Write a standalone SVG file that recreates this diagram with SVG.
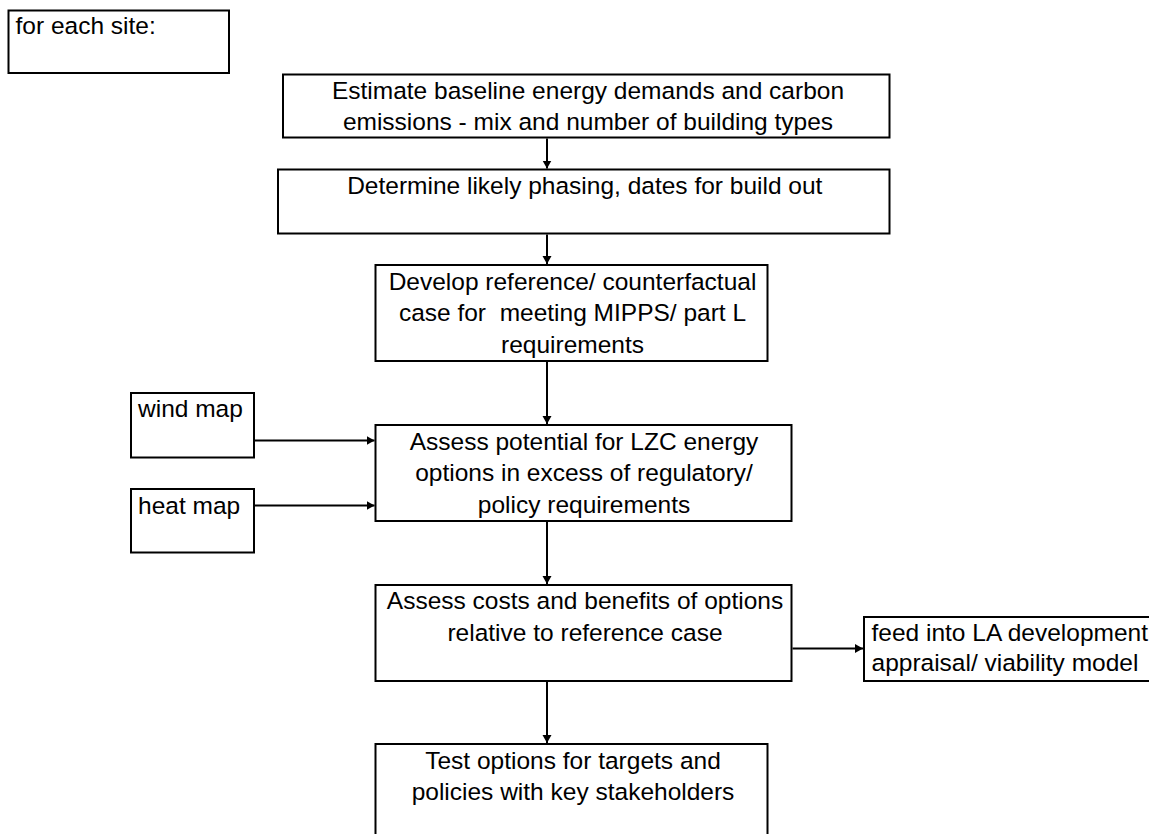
<svg xmlns="http://www.w3.org/2000/svg" width="1149" height="834" viewBox="0 0 1149 834">
  <style>
    .box { fill: #ffffff; stroke: #000000; stroke-width: 2; }
    .t { font-family: "Liberation Sans", Arial, sans-serif; font-size: 24.5px; fill: #000000; }
    .c { text-anchor: middle; }
    .conn { stroke: #000000; stroke-width: 2; fill: none; marker-end: url(#arrow); }
  </style>
  <defs>
    <marker id="arrow" markerUnits="userSpaceOnUse" markerWidth="10" markerHeight="10" refX="8" refY="4.5" orient="auto">
      <path d="M0,0 L8,4.5 L0,9 Z" fill="#000000"/>
    </marker>
  </defs>
  <rect x="0" y="0" width="1149" height="834" fill="#ffffff"/>

  <g id="for-each-site">
    <rect class="box" x="8.5" y="10.5" width="220.5" height="62.5"/>
    <text class="t" x="15.5" y="34">for each site:</text>
  </g>

  <g id="estimate-baseline">
    <rect class="box" x="283" y="74.5" width="606.5" height="63"/>
    <text class="t c" x="588" y="98.5">Estimate baseline energy demands and carbon</text>
    <text class="t c" x="588" y="130">emissions - mix and number of building types</text>
  </g>

  <g id="determine-phasing">
    <rect class="box" x="278" y="169.5" width="611.5" height="64"/>
    <text class="t c" x="584.8" y="193.5">Determine likely phasing, dates for build out</text>
  </g>

  <g id="develop-reference">
    <rect class="box" x="375.5" y="265" width="392" height="96"/>
    <text class="t c" x="572.5" y="289.5">Develop reference/ counterfactual</text>
    <text class="t c" x="572.5" y="321" xml:space="preserve">case for  meeting MIPPS/ part L</text>
    <text class="t c" x="572.5" y="352.5">requirements</text>
  </g>

  <g id="wind-map">
    <rect class="box" x="131" y="393" width="123" height="64.5"/>
    <text class="t" x="138" y="417.3">wind map</text>
  </g>

  <g id="heat-map">
    <rect class="box" x="131" y="489" width="123" height="63.5"/>
    <text class="t" x="138" y="513.5">heat map</text>
  </g>

  <g id="assess-potential">
    <rect class="box" x="375.5" y="425" width="416" height="96"/>
    <text class="t c" x="584" y="449.5">Assess potential for LZC energy</text>
    <text class="t c" x="584" y="481">options in excess of regulatory/</text>
    <text class="t c" x="584" y="512.5">policy requirements</text>
  </g>

  <g id="assess-costs">
    <rect class="box" x="375.5" y="585" width="416" height="96"/>
    <text class="t c" x="585" y="609">Assess costs and benefits of options</text>
    <text class="t c" x="585" y="640.5">relative to reference case</text>
  </g>

  <g id="feed-into-la">
    <rect class="box" x="864" y="617" width="300" height="64"/>
    <text class="t" x="871.5" y="640.5">feed into LA development</text>
    <text class="t" x="871.5" y="671">appraisal/ viability model</text>
  </g>

  <g id="test-options">
    <rect class="box" x="375.5" y="744" width="392" height="120"/>
    <text class="t c" x="573" y="768.5">Test options for targets and</text>
    <text class="t c" x="573" y="800">policies with key stakeholders</text>
  </g>

  <g id="connectors">
    <line class="conn" x1="547" y1="138.5" x2="547" y2="168.5"/>
    <line class="conn" x1="547" y1="234.5" x2="547" y2="264"/>
    <line class="conn" x1="547" y1="362" x2="547" y2="424"/>
    <line class="conn" x1="255" y1="440.5" x2="374.5" y2="440.5"/>
    <line class="conn" x1="255" y1="505.5" x2="374.5" y2="505.5"/>
    <line class="conn" x1="547" y1="522" x2="547" y2="584"/>
    <line class="conn" x1="547" y1="682" x2="547" y2="743"/>
    <line class="conn" x1="792.5" y1="648.5" x2="863" y2="648.5"/>
  </g>
</svg>
